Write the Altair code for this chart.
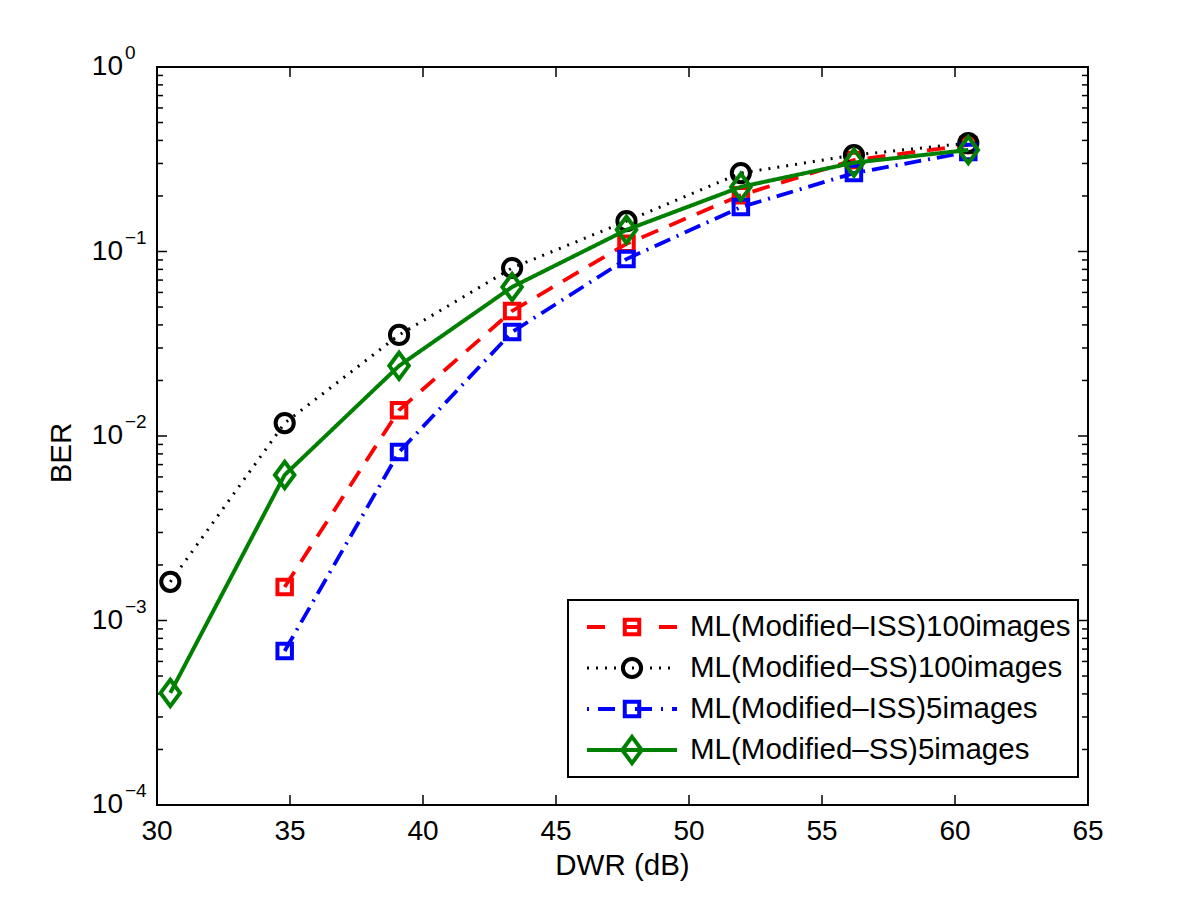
import altair as alt
import pandas as pd

# ---------------- data ----------------
dwr = [30.5, 34.8, 39.1, 43.35, 47.65, 51.95, 56.2, 60.5]
ber_iss_100 = [None, 1.52e-3, 0.0138, 0.0476, 0.110, 0.202, 0.313, 0.378]
ber_ss_100 = [1.62e-3, 0.01175, 0.0353, 0.0814, 0.146, 0.266, 0.333, 0.387]
ber_iss_5 = [None, 6.84e-4, 8.19e-3, 0.0366, 0.091, 0.174, 0.266, 0.346]
ber_ss_5 = [4.05e-4, 6.15e-3, 0.0240, 0.0642, 0.131, 0.224, 0.303, 0.355]

series_names = [
    "ML(Modified\u2013ISS)100images",
    "ML(Modified\u2013SS)100images",
    "ML(Modified\u2013ISS)5images",
    "ML(Modified\u2013SS)5images",
]
series_values = [ber_iss_100, ber_ss_100, ber_iss_5, ber_ss_5]

x_ticks = [30, 35, 40, 45, 50, 55, 60, 65]
y_decades = [1e-4, 1e-3, 1e-2, 1e-1, 1.0]
y_exponents = ["\u22124", "\u22123", "\u22122", "\u22121", "0"]
y_minor = [k * d for d in [1e-4, 1e-3, 1e-2, 1e-1] for k in range(2, 10)]

# ---------------- style ----------------
W, H = 931, 738
FONT = "Liberation Sans"
styles = [
    dict(color="#ff0000", dash=[18, 12], ldash=[18, 18], shape="square", size=210, lw=3.8),
    dict(color="#000000", dash=[2, 7], ldash=[2, 7], shape="circle", size=330, lw=3),
    dict(color="#0000ff", dash=[17, 7, 2, 7], ldash=[2, 9, 17, 9], shape="square", size=210, lw=3.8),
    dict(color="#008000", dash=[1, 0], ldash=[1, 0], shape="M0,-1.35L1,0L0,1.35L-1,0Z", size=380, lw=4),
]
MARKER_SW = 4

x_scale = alt.Scale(domain=[30, 65], nice=False, zero=False)
y_scale = alt.Scale(type="log", domain=[1e-4, 1], nice=False)


def X():
    return alt.X("x:Q", scale=x_scale, axis=None)


def Y():
    return alt.Y("y:Q", scale=y_scale, axis=None)


layers = []

# ticks (inward, mirrored)
xt = pd.DataFrame({"x": x_ticks})
layers.append(alt.Chart(xt).mark_rule(color="black", strokeWidth=1.5).encode(
    x=X(), y=alt.value(H), y2=alt.value(H - 10)))
layers.append(alt.Chart(xt).mark_rule(color="black", strokeWidth=1.5).encode(
    x=X(), y=alt.value(0), y2=alt.value(10)))
yt = pd.DataFrame({"y": y_decades})
layers.append(alt.Chart(yt).mark_rule(color="black", strokeWidth=1.5).encode(
    y=Y(), x=alt.value(0), x2=alt.value(10)))
layers.append(alt.Chart(yt).mark_rule(color="black", strokeWidth=1.5).encode(
    y=Y(), x=alt.value(W), x2=alt.value(W - 10)))
ym = pd.DataFrame({"y": y_minor})
layers.append(alt.Chart(ym).mark_rule(color="black", strokeWidth=1.5).encode(
    y=Y(), x=alt.value(0), x2=alt.value(6)))
layers.append(alt.Chart(ym).mark_rule(color="black", strokeWidth=1.5).encode(
    y=Y(), x=alt.value(W), x2=alt.value(W - 6)))

# tick labels
xl = pd.DataFrame({"x": x_ticks, "t": [str(v) for v in x_ticks]})
layers.append(alt.Chart(xl).mark_text(font=FONT, fontSize=28, baseline="middle", align="center").encode(
    x=X(), y=alt.value(H + 27), text="t:N"))
yl = pd.DataFrame({"y": y_decades, "e": y_exponents, "b": ["10"] * 5})
layers.append(alt.Chart(yl).mark_text(font=FONT, fontSize=28, baseline="middle", align="right").encode(
    y=Y(), x=alt.value(-34), text="b:N"))
layers.append(alt.Chart(yl).mark_text(font=FONT, fontSize=19, baseline="alphabetic", align="left", dy=-8).encode(
    y=Y(), x=alt.value(-32), text="e:N"))

# axis titles
title_df = pd.DataFrame({"t": ["DWR (dB)"]})
layers.append(alt.Chart(title_df).mark_text(font=FONT, fontSize=29.5, baseline="middle", align="center").encode(
    x=alt.value(W / 2), y=alt.value(H + 61), text="t:N"))
ytitle_df = pd.DataFrame({"t": ["BER"]})
layers.append(alt.Chart(ytitle_df).mark_text(font=FONT, fontSize=29.5, baseline="middle", align="center", angle=270).encode(
    x=alt.value(-95), y=alt.value(386), text="t:N"))

# series
for name, vals, st in zip(series_names, series_values, styles):
    df = pd.DataFrame({"x": dwr, "y": vals}).dropna()
    layers.append(alt.Chart(df).mark_line(color=st["color"], strokeDash=st["dash"], strokeWidth=st["lw"]).encode(
        x=X(), y=Y()))
    layers.append(alt.Chart(df).mark_point(shape=st["shape"], color=st["color"], filled=False, opacity=1,
                                           size=st["size"], strokeWidth=MARKER_SW).encode(x=X(), y=Y()))

# legend (manual, inside plot, lower right)
LX0, LX1, LY0, LY1 = 411, 921, 533, 710
box_df = pd.DataFrame({"a": [0]})
layers.append(alt.Chart(box_df).mark_rect(fill="white", stroke="black", strokeWidth=2).encode(
    x=alt.value(LX0), x2=alt.value(LX1), y=alt.value(LY0), y2=alt.value(LY1)))
rows_y = [560, 601, 642, 683]
for name, st, ry in zip(series_names, styles, rows_y):
    ld = pd.DataFrame({"t": [name]})
    layers.append(alt.Chart(ld).mark_rule(color=st["color"], strokeDash=st["ldash"], strokeWidth=st["lw"]).encode(
        x=alt.value(430), x2=alt.value(520), y=alt.value(ry)))
    layers.append(alt.Chart(ld).mark_point(shape=st["shape"], color=st["color"], filled=False, opacity=1,
                                           size=st["size"], strokeWidth=MARKER_SW).encode(
        x=alt.value(475), y=alt.value(ry)))
    layers.append(alt.Chart(ld).mark_text(font=FONT, fontSize=29.5, baseline="middle", align="left").encode(
        x=alt.value(533), y=alt.value(ry), text="t:N"))

chart = alt.layer(*layers).properties(
    width=W, height=H,
    padding={"left": 149, "top": 59, "right": 100, "bottom": 90},
    autosize=alt.AutoSizeParams(type="none"),
    background="white",
).configure_view(stroke="black", strokeWidth=2)

chart.save("out.html", embed_options={"renderer": "svg", "actions": False})
